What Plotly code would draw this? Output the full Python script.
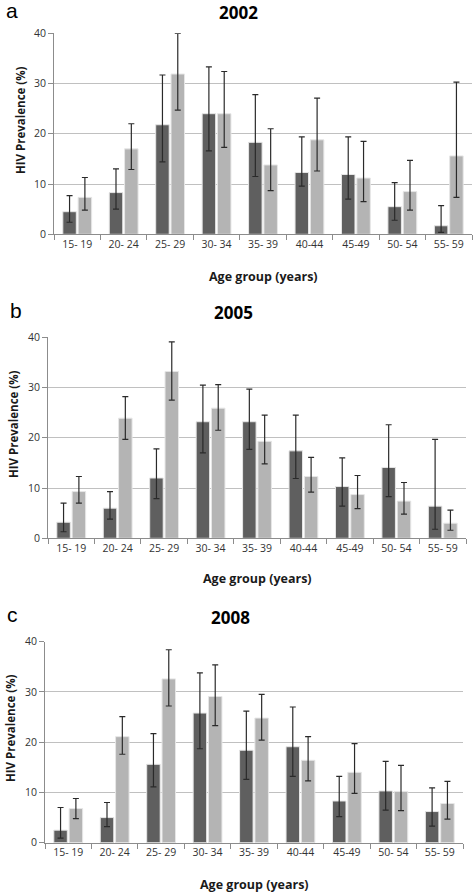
import plotly.graph_objects as go

ages = ["15- 19", "20- 24", "25- 29", "30- 34", "35- 39", "40-44", "45-49", "50- 54", "55- 59"]
y_ticks = [0, 10, 20, 30, 40]

# 2002
dark_2002 = [4.5, 8.3, 21.8, 24.0, 18.3, 12.3, 11.9, 5.5, 1.7]
dark_2002_hi = [7.7, 13.0, 31.7, 33.3, 27.8, 19.4, 19.4, 10.3, 5.7]
dark_2002_lo = [2.4, 5.0, 14.4, 16.6, 11.5, 9.6, 7.0, 2.8, 0.4]
light_2002 = [7.35, 17.0, 31.9, 24.0, 13.8, 18.8, 11.2, 8.5, 15.6]
light_2002_hi = [11.3, 22.0, 40.0, 32.4, 21.0, 27.1, 18.5, 14.7, 30.3]
light_2002_lo = [4.8, 12.9, 24.7, 17.3, 8.7, 12.6, 6.5, 4.8, 7.35]

# 2005
dark_2005 = [3.2, 6.0, 12.0, 23.2, 23.2, 17.4, 10.3, 14.1, 6.4]
dark_2005_hi = [7.0, 9.3, 17.8, 30.5, 29.7, 24.5, 16.0, 22.6, 19.7]
dark_2005_lo = [1.3, 3.8, 7.9, 17.0, 17.7, 11.9, 6.4, 8.3, 1.8]
light_2005 = [9.3, 23.9, 33.2, 25.9, 19.3, 12.3, 8.7, 7.4, 3.0]
light_2005_hi = [12.3, 28.2, 39.1, 30.6, 24.5, 16.1, 12.5, 11.1, 5.6]
light_2005_lo = [7.0, 19.7, 27.5, 21.5, 14.8, 9.2, 5.9, 4.8, 1.6]

# 2008
dark_2008 = [2.5, 5.0, 15.6, 25.8, 18.4, 19.1, 8.3, 10.3, 6.2]
dark_2008_hi = [7.0, 8.0, 21.7, 33.8, 26.2, 27.0, 13.2, 16.2, 10.9]
dark_2008_lo = [0.9, 3.2, 11.1, 18.7, 12.6, 13.2, 5.2, 6.5, 3.3]
light_2008 = [6.8, 21.1, 32.6, 29.1, 24.8, 16.4, 14.0, 10.2, 7.8]
light_2008_hi = [8.8, 25.1, 38.4, 35.4, 29.5, 21.1, 19.7, 15.4, 12.2]
light_2008_lo = [4.8, 17.6, 27.2, 23.3, 20.4, 12.3, 9.8, 6.4, 4.7]

W, H = 475, 893
DARK = "#5f5f5f"
LIGHT = "#b4b4b4"
ERR = "#2a2a2a"
GRID = "#c0c0c0"
AXIS = "#8c8c8c"
TXT = "#333333"

panels = [
    dict(year="2002", letter="a",
         series=[(dark_2002, dark_2002_hi, dark_2002_lo, DARK), (light_2002, light_2002_hi, light_2002_lo, LIGHT)],
         px_x=(54, 472), px_y=(33.3, 234.3), title_x=238, title_y=12, letter_x=12, letter_y=11,
         ylab_x=20, ylab_y=120, xtl_y=276),
    dict(year="2005", letter="b",
         series=[(dark_2005, dark_2005_hi, dark_2005_lo, DARK), (light_2005, light_2005_hi, light_2005_lo, LIGHT)],
         px_x=(48, 466), px_y=(337.3, 538.3), title_x=233, title_y=313, letter_x=16, letter_y=310,
         ylab_x=13, ylab_y=424, xtl_y=578),
    dict(year="2008", letter="c",
         series=[(dark_2008, dark_2008_hi, dark_2008_lo, DARK), (light_2008, light_2008_hi, light_2008_lo, LIGHT)],
         px_x=(45, 463), px_y=(641.7, 842.7), title_x=230, title_y=617, letter_x=12, letter_y=614,
         ylab_x=10, ylab_y=728, xtl_y=884),
]

fig = go.Figure()
annotations = []
names = ["Male", "Female"]
for i, p in enumerate(panels):
    ax = "" if i == 0 else str(i + 1)
    for j, (vals, hi, lo, col) in enumerate(p["series"]):
        fig.add_trace(go.Bar(
            x=ages, y=vals, name=names[j], showlegend=False,
            marker=dict(color=col, line=dict(color="#e6e6e6", width=1)),
            error_y=dict(type="data", symmetric=False,
                         array=[h - v for h, v in zip(hi, vals)],
                         arrayminus=[v - l for v, l in zip(vals, lo)],
                         color=ERR, thickness=1.2, width=3),
            xaxis="x" + ax, yaxis="y" + ax,
        ))
    x0, x1 = p["px_x"]
    y0, y1 = p["px_y"]
    fig.layout["xaxis" + ax] = dict(
        domain=[x0 / W, x1 / W], anchor="y" + ax, type="category",
        showline=True, linecolor=AXIS, linewidth=1,
        ticks="outside", tickson="boundaries", ticklen=5, tickcolor=AXIS,
        tickfont=dict(family="Open Sans", size=10.5, color=TXT),
        showgrid=False, fixedrange=True, automargin=False,
    )
    fig.layout["yaxis" + ax] = dict(
        domain=[1 - y1 / H, 1 - y0 / H], anchor="x" + ax, range=[0, 40],
        tickvals=y_ticks, showline=True, linecolor=AXIS, linewidth=1,
        ticks="outside", ticklen=5, tickcolor=AXIS,
        tickfont=dict(family="Open Sans", size=10.5, color=TXT),
        showgrid=True, gridcolor=GRID, gridwidth=1, zeroline=False, fixedrange=True,
        automargin=False,
    )
    annotations.append(dict(text="<b>" + p["year"] + "</b>", x=p["title_x"] / W, y=1 - p["title_y"] / H,
                            xref="paper", yref="paper", showarrow=False, xanchor="center", yanchor="middle",
                            font=dict(family="Open Sans", size=17, color="#000000")))
    annotations.append(dict(text=p["letter"], x=p["letter_x"] / W, y=1 - p["letter_y"] / H,
                            xref="paper", yref="paper", showarrow=False, xanchor="center", yanchor="middle",
                            font=dict(family="Liberation Sans", size=21, color="#000000")))
    annotations.append(dict(text="<b>HIV Prevalence (%)</b>", x=p["ylab_x"] / W, y=1 - p["ylab_y"] / H,
                            xref="paper", yref="paper", showarrow=False, textangle=-90,
                            xanchor="center", yanchor="middle",
                            font=dict(family="Open Sans", size=11.5, color="#1a1a1a")))
    annotations.append(dict(text="<b>Age group (years)</b>", x=((x0 + x1) / 2) / W, y=1 - p["xtl_y"] / H,
                            xref="paper", yref="paper", showarrow=False, xanchor="center", yanchor="middle",
                            font=dict(family="Open Sans", size=12.5, color="#1a1a1a")))

fig.update_layout(
    width=W, height=H, margin=dict(l=0, r=0, t=0, b=0, pad=0), autosize=False,
    paper_bgcolor="white", plot_bgcolor="white",
    barmode="group", bargap=0.34, bargroupgap=0.12,
    annotations=annotations,
)
fig.write_html("out.html", config={"responsive": False, "displayModeBar": False},
               post_script="document.body.style.margin='0';document.body.style.overflow='hidden';")
